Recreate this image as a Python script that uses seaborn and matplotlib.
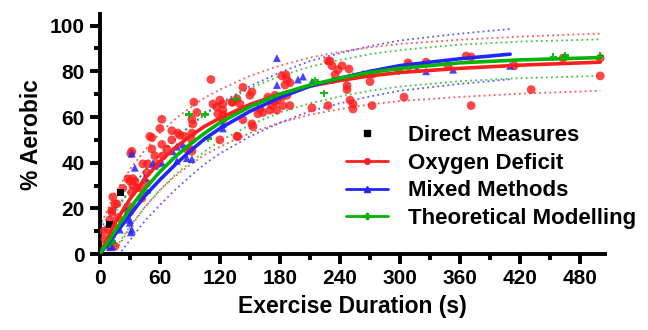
import numpy as np
import pandas as pd
import matplotlib
matplotlib.use("Agg")
import matplotlib.pyplot as plt
from matplotlib.lines import Line2D
from matplotlib.ticker import MultipleLocator
import seaborn as sns

sns.set_theme(style="ticks")
plt.rcParams["font.family"] = ["Liberation Sans", "DejaVu Sans"]
plt.rcParams["font.weight"] = "bold"
for key in ["text.color", "axes.labelcolor", "xtick.color", "ytick.color"]:
    plt.rcParams[key] = "black"

# ---------------------------------------------------------------
# Data (time in s, % aerobic)
# ---------------------------------------------------------------
direct_t = [10, 21]
direct_v = [13, 27]

oxygen_t = [4, 5, 8, 10, 10, 12, 12, 13, 13, 15, 15, 17, 18, 23, 28, 28, 30, 30, 31, 32,
            32, 32, 33, 33, 35, 37, 40, 42, 43, 47, 47, 48, 50, 52, 52, 55, 58, 60, 62, 62,
            63, 67, 72, 72, 78, 80, 85, 87, 90, 92, 92, 93, 92, 92, 94, 97, 111, 113, 117, 118,
            120, 120, 123, 123, 123, 123, 132, 133, 137, 137, 138, 140, 143, 143, 150, 152, 152, 153, 158, 160,
            163, 168, 170, 172, 175, 175, 177, 177, 182, 182, 183, 185, 186, 187, 187, 190, 190, 212, 228, 228,
            230, 232, 235, 238, 242, 247, 247, 249, 250, 253, 253, 270, 272, 273, 304, 308, 309, 326, 348, 366,
            371, 371, 414, 431, 463, 500, 500]
oxygen_v = [10, 6.5, 11, 15, 3.5, 18.5, 19, 25, 13, 22, 3.5, 22, 16, 28.8, 33, 19, 18.5, 32, 44, 45,
            27, 20.6, 30, 33, 32, 29, 29, 24.5, 39.5, 35.6, 31, 39.5, 51.5, 51, 46, 43, 39.5, 55, 48, 59,
            43, 46, 50, 54, 53, 52, 51.5, 46, 46, 45, 59, 57, 53, 50, 66.5, 62, 76.4, 65.7, 64.4, 61.4,
            67.4, 50, 65.7, 63, 61, 59, 66.5, 66.5, 68, 51.5, 51.5, 65.7, 73, 58.8, 69.5, 71, 57, 55.8, 61.4, 63.5,
            62, 68.7, 63, 65, 69.5, 66.5, 67.4, 63, 68.7, 78, 65, 74, 78.5, 76.4, 69.5, 65, 75, 64, 84.5, 65,
            84.5, 82.4, 78.5, 80.7, 82.4, 73.8, 72, 81, 67.4, 65.7, 63.5, 75.5, 65, 79, 68.7, 83.7, 82.4, 84, 82.4, 86.7,
            86.3, 65, 82.4, 72, 85.8, 85.8, 78]

mixed_t = [10, 12, 13, 20, 25, 30, 30, 32, 31, 32, 35, 45, 53, 55, 62, 73, 77, 77, 83, 87,
           92, 123, 123, 177, 177, 198, 203, 212, 253, 263, 271, 317, 326, 353, 410]
mixed_v = [3, 3.4, 6.4, 10.7, 20.6, 15, 13.7, 10.7, 9.5, 44, 37.8, 33.5, 39.5, 38.6, 40, 45, 47, 40.8, 48, 42,
           41.6, 55, 57, 85.8, 74, 76.4, 77.7, 75.5, 78, 79, 79, 81, 80, 80.7, 82.4]

theory_t = [10, 13, 13, 47, 89, 105, 108, 136, 215, 224, 233, 299, 453, 465, 500]
theory_v = [4.3, 5.6, 7.7, 27, 61, 61, 50.6, 68, 76, 70.4, 76, 80, 86.3, 87, 86.7]

# fitted curves and dotted prediction bands, read at these times
fit_t = [0, 15, 30, 45, 60, 75, 90, 105, 120, 150, 180, 210, 240, 270, 300, 360, 420, 500]
oxygen_fit = [0, 13.5, 24, 33, 40.5, 46.5, 51.5, 56, 59.5, 65.5, 70, 73.5, 76, 78, 79.5, 81.3, 82.7, 84]
oxygen_hi = [12, 26.5, 37, 45.5, 53, 59, 64, 68.5, 72, 78, 82.5, 86, 88.5, 90.5, 92, 93.8, 95.2, 96.5]
oxygen_lo = [-12, 1, 11.5, 20.5, 28, 34, 39, 43.5, 47, 53, 57.5, 61, 63.5, 65.5, 67, 68.8, 70.2, 71.5]
theory_fit = [0, 10, 20, 28.5, 36, 42.5, 48, 53, 57.5, 64.5, 70, 74, 77, 79.5, 81.3, 83.7, 85, 86]
theory_hi = [8, 18, 28, 36.5, 44, 50.5, 56, 61, 65.5, 72.5, 78, 82, 85, 87.5, 89.3, 91.7, 93, 94]
theory_lo = [-8, 2, 12, 20.5, 28, 34.5, 40, 45, 49.5, 56.5, 62, 66, 69, 71.5, 73.3, 75.7, 77, 78]

mixed_fit_t = [0, 15, 30, 45, 60, 75, 90, 105, 120, 150, 180, 210, 240, 270, 300, 360, 410]
mixed_fit = [0, 8.5, 17, 25.5, 32.5, 39, 45, 50.5, 55, 62.5, 68.5, 73.5, 77, 80, 82.5, 85.5, 87.5]
mixed_hi = [11, 19.5, 28, 36.5, 43.5, 50, 56, 61.5, 66, 73.5, 79.5, 84.5, 88, 91, 93.5, 96.5, 98.5]
mixed_lo = [-11, -2.5, 6, 14.5, 21.5, 28, 34, 39.5, 44, 51.5, 57.5, 62.5, 66, 69, 71.5, 74.5, 76.5]

RED, BLUE, GREEN = "#ff1e1e", "#2424ff", "#00b400"

# ---------------------------------------------------------------
# Plot
# ---------------------------------------------------------------
fig = plt.figure(figsize=(6.48, 3.30), dpi=100)
ax = fig.add_axes([0.154, 0.23, 0.78, 0.727])

# dotted prediction bands
for tt, band, col in [(fit_t, oxygen_hi, RED), (fit_t, oxygen_lo, RED),
                      (mixed_fit_t, mixed_hi, BLUE), (mixed_fit_t, mixed_lo, BLUE),
                      (fit_t, theory_hi, GREEN), (fit_t, theory_lo, GREEN)]:
    sns.lineplot(x=tt, y=band, color=col, lw=1.3, ls=(0, (1, 1.8)), alpha=0.75, ax=ax)

# points
sns.scatterplot(x=oxygen_t, y=oxygen_v, color=RED, marker="o", s=40, alpha=0.82,
                edgecolor="none", ax=ax, zorder=3)
sns.scatterplot(x=mixed_t, y=mixed_v, color=BLUE, marker="^", s=32, alpha=0.85,
                edgecolor="none", ax=ax, zorder=3)
sns.scatterplot(x=theory_t, y=theory_v, color=GREEN, marker="P", s=28, alpha=0.9,
                edgecolor="none", ax=ax, zorder=3)
sns.scatterplot(x=direct_t, y=direct_v, color="black", marker="s", s=24,
                edgecolor="none", ax=ax, zorder=4)

# fitted curves
sns.lineplot(x=fit_t, y=oxygen_fit, color=RED, lw=2.6, ax=ax, zorder=5)
sns.lineplot(x=mixed_fit_t, y=mixed_fit, color=BLUE, lw=2.6, ax=ax, zorder=5)
sns.lineplot(x=fit_t, y=theory_fit, color=GREEN, lw=2.6, ax=ax, zorder=5)

ax.set_xlim(0, 505)
ax.set_ylim(0, 105)
ax.xaxis.set_major_locator(MultipleLocator(60))
ax.xaxis.set_minor_locator(MultipleLocator(30))
ax.yaxis.set_major_locator(MultipleLocator(20))
ax.yaxis.set_minor_locator(MultipleLocator(10))
sns.despine(ax=ax)
for side in ["left", "bottom"]:
    ax.spines[side].set_linewidth(2.8)
    ax.spines[side].set_color("black")
ax.tick_params(which="major", length=7, width=2.8, labelsize=15, pad=4, colors="black")
ax.tick_params(which="minor", length=4.5, width=2.8, colors="black")
for lab in ax.get_xticklabels() + ax.get_yticklabels():
    lab.set_fontweight("bold")

ax.set_xlabel("Exercise Duration (s)", fontsize=16.5, fontweight="bold", labelpad=5)
ax.set_ylabel("% Aerobic", fontsize=16.5, fontweight="bold", labelpad=5)

handles = [
    Line2D([], [], color="black", marker="s", ls="none", ms=4),
    Line2D([], [], color=RED, marker="o", lw=2, ms=4),
    Line2D([], [], color=BLUE, marker="^", lw=2, ms=4),
    Line2D([], [], color=GREEN, marker="P", lw=2, ms=4),
]
labels = ["Direct Measures", "Oxygen Deficit", "Mixed Methods", "Theoretical Modelling"]
ax.legend(handles, labels, loc="upper left", bbox_to_anchor=(0.47, 0.575), frameon=False,
          prop={"weight": "bold", "size": 16}, handlelength=1.9, labelspacing=0.3,
          handletextpad=0.9, borderaxespad=0)

fig.savefig("out.png", dpi=100)
